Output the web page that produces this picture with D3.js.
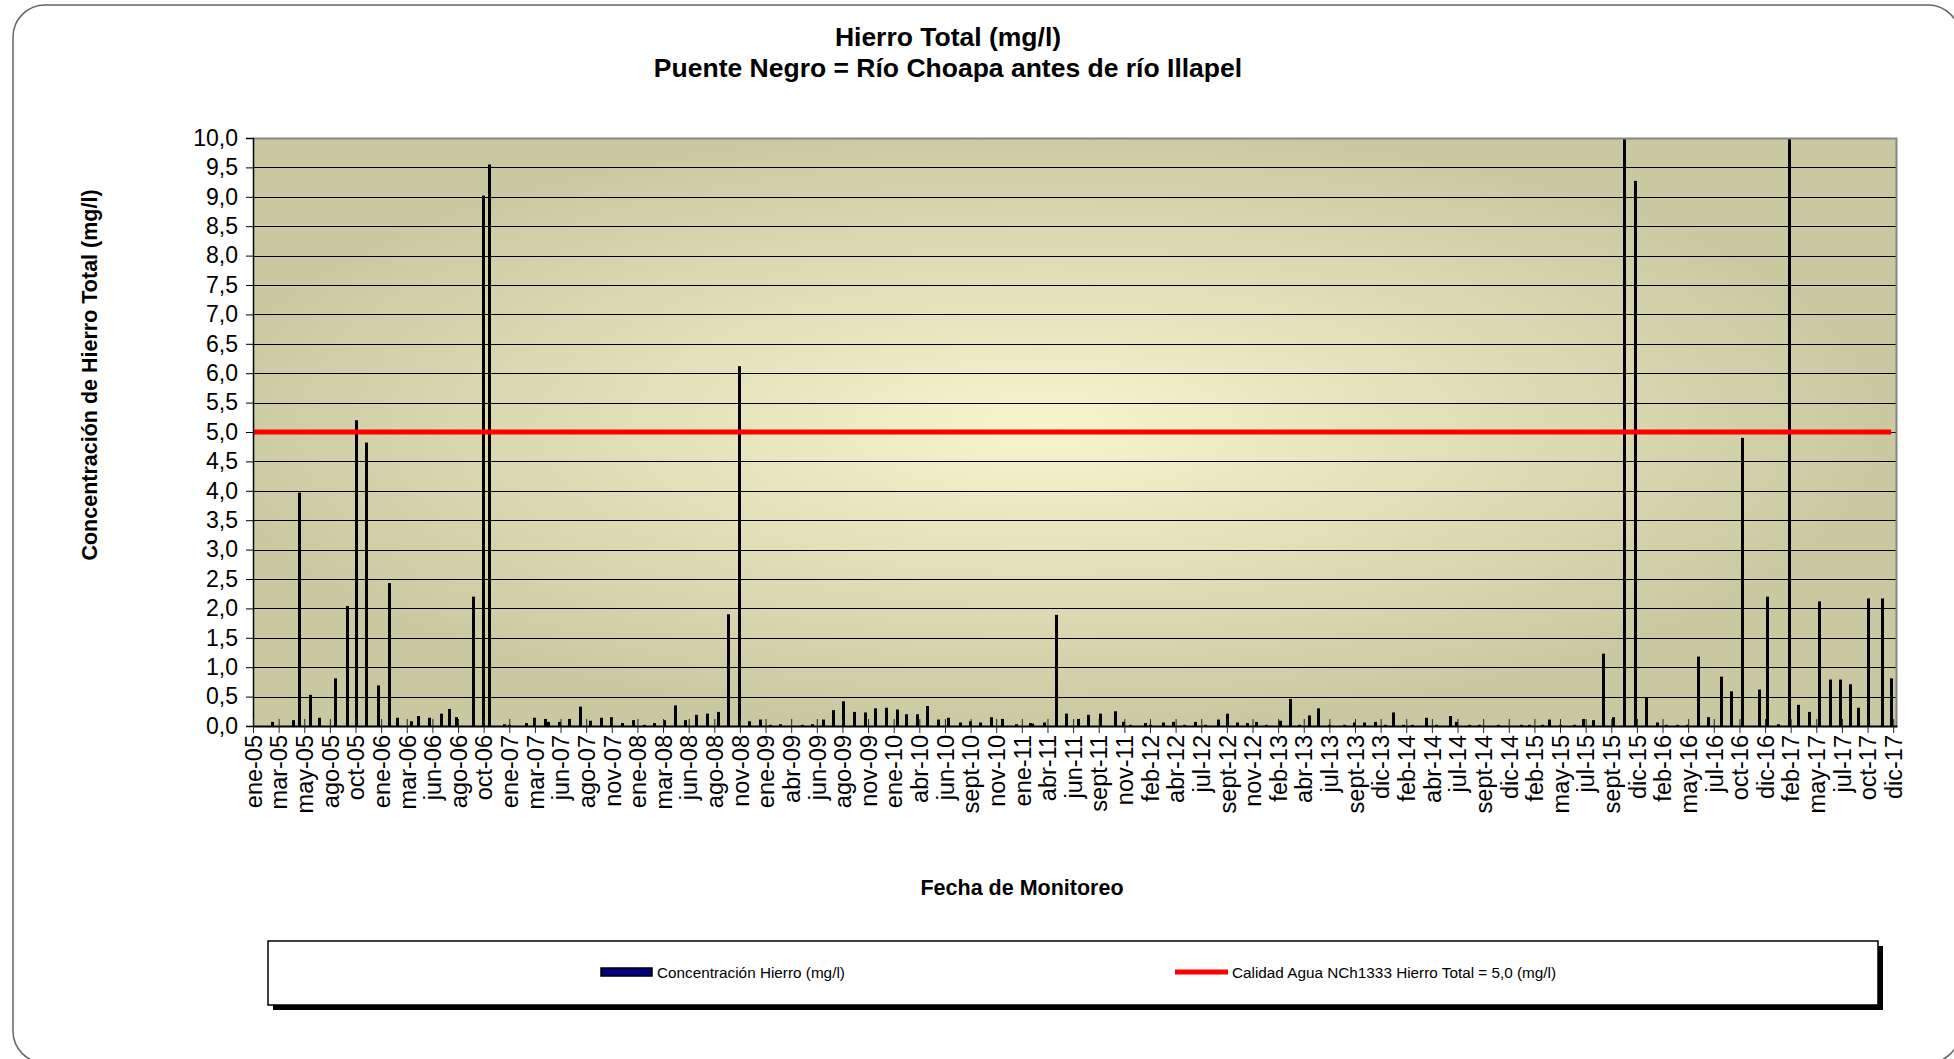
<!DOCTYPE html>
<html>
<head>
<meta charset="utf-8">
<script src="https://cdn.jsdelivr.net/npm/d3@7"></script>
<style>
  body { margin: 0; background: #fff; }
  svg { display: block; font-family: "Liberation Sans", Arial, sans-serif; }
</style>
</head>
<body>
<svg id="chart"></svg>
<script>
// monitoring dates and total iron (mg/l)
const sampleDates = [
  '2005-02-24','2005-04-26','2005-05-13','2005-06-16','2005-07-12','2005-08-26','2005-09-30','2005-10-24','2005-11-22','2005-12-29',
  '2006-01-30','2006-02-22','2006-04-01','2006-04-21','2006-05-23','2006-06-29','2006-07-21','2006-08-10','2006-09-27','2006-10-27','2006-11-13','2006-12-27',
  '2007-01-10','2007-02-28','2007-03-24','2007-04-24','2007-05-02','2007-06-03','2007-07-03','2007-08-03','2007-09-02','2007-10-03','2007-11-02','2007-12-03',
  '2008-01-02','2008-02-03','2008-03-03','2008-04-02','2008-05-03','2008-06-02','2008-07-04','2008-08-03','2008-09-04','2008-10-03','2008-11-03','2008-12-03',
  '2009-01-03','2009-02-02','2009-03-04','2009-05-04','2009-06-03','2009-07-04','2009-08-02','2009-09-02','2009-10-03','2009-11-03','2009-12-02',
  '2010-01-03','2010-02-03','2010-03-02','2010-04-02','2010-05-02','2010-06-02','2010-07-02','2010-08-03','2010-09-02','2010-10-02','2010-11-02','2010-12-03',
  '2011-01-13','2011-02-22','2011-03-01','2011-04-05','2011-05-10','2011-06-06','2011-07-11','2011-08-09','2011-09-12','2011-10-26','2011-11-18','2011-12-08',
  '2012-01-20','2012-02-05','2012-03-14','2012-04-10','2012-05-12','2012-06-12','2012-07-12','2012-08-19','2012-09-13','2012-10-12','2012-11-09','2012-12-05',
  '2013-01-03','2013-02-14','2013-03-14','2013-04-10','2013-05-07','2013-06-04','2013-07-06','2013-08-17','2013-09-16','2013-10-15','2013-11-14','2013-12-15',
  '2014-01-07','2014-02-03','2014-03-03','2014-04-10','2014-05-09','2014-06-18','2014-07-07','2014-08-13','2014-09-10','2014-11-04',
  '2015-01-09','2015-02-03','2015-03-11','2015-04-02','2015-05-04','2015-06-13','2015-07-08','2015-08-06','2015-09-04','2015-10-03','2015-11-03','2015-12-06',
  '2016-01-06','2016-02-06','2016-03-05','2016-04-04','2016-05-04','2016-06-03','2016-07-03','2016-08-11','2016-09-09','2016-10-09','2016-11-28','2016-12-20',
  '2017-01-21','2017-02-21','2017-03-21','2017-04-21','2017-05-21','2017-06-21','2017-07-20','2017-08-18','2017-09-08','2017-10-07','2017-11-18','2017-12-14'
];

const ironValues = [
  0.07, 0.10, 3.97, 0.53, 0.14, 0.81, 2.04, 5.20, 4.82, 0.69,
  2.43, 0.14, 0.08, 0.17, 0.14, 0.21, 0.29, 0.15, 2.20, 9.02, 9.55, 0.03,
  0.02, 0.05, 0.14, 0.12, 0.07, 0.07, 0.12, 0.33, 0.09, 0.14, 0.15, 0.05,
  0.10, 0.02, 0.05, 0.10, 0.35, 0.10, 0.19, 0.21, 0.24, 1.90, 6.12, 0.08,
  0.11, 0.02, 0.03, 0.02, 0.03, 0.11, 0.27, 0.42, 0.24, 0.23, 0.30,
  0.31, 0.28, 0.20, 0.20, 0.34, 0.11, 0.14, 0.06, 0.08, 0.06, 0.15, 0.12,
  0.03, 0.05, 0.04, 0.06, 1.89, 0.21, 0.12, 0.19, 0.21, 0.25, 0.07, 0.02,
  0.05, 0.02, 0.06, 0.07, 0.02, 0.07, 0.02, 0.11, 0.21, 0.06, 0.05, 0.07,
  0.02, 0.09, 0.46, 0.02, 0.18, 0.30, 0.02, 0.02, 0.06, 0.06, 0.07, 0.02,
  0.23, 0.02, 0.02, 0.14, 0.02, 0.17, 0.07, 0.02, 0.02, 0.02,
  0.02, 0.02, 0.02, 0.11, 0.02, 0.02, 0.12, 0.10, 1.23, 0.15, 10.80, 9.27,
  0.49, 0.06, 0.02, 0.02, 0.02, 1.18, 0.15, 0.84, 0.59, 4.90, 0.62, 2.20,
  0.03, 10.80, 0.36, 0.24, 2.12, 0.79, 0.79, 0.71, 0.31, 2.17, 2.17, 0.81
];

// NCh1333 limit line
const limitDates = ['2005-01-01', '2017-12-14'];
const limitValues = [5.0, 5.0];

// axis setup
const axisStart = '2005-01-01';
const axisEnd = '2017-12-31';
const tickStepDays = 74;
const monthAbbr = ['ene', 'feb', 'mar', 'abr', 'may', 'jun', 'jul', 'ago', 'sept', 'oct', 'nov', 'dic'];
const yTicks = d3.range(0, 10.01, 0.5);

const titleLines = ['Hierro Total (mg/l)', 'Puente Negro = Río Choapa antes de río Illapel'];
const yTitle = 'Concentración de Hierro Total (mg/l)';
const xTitle = 'Fecha de Monitoreo';
const legendLabels = ['Concentración Hierro (mg/l)', 'Calidad Agua NCh1333 Hierro Total = 5,0 (mg/l)'];

const parse = d3.timeParse('%Y-%m-%d');
const esFormat = d3.formatLocale({decimal: ',', thousands: '.', grouping: [3], currency: ['$', '']}).format('.1f');

let svg = d3.select('#chart')
    .attr('width', 1954)
    .attr('height', 1059),
  margin = {top: 138, left: 253},
  width = 1644,
  height = 588;

// outer rounded frame
svg.append('rect')
  .attr('x', 13).attr('y', 5)
  .attr('width', 1947).attr('height', 1058)
  .attr('rx', 32)
  .attr('fill', '#fff')
  .attr('stroke', '#666')
  .attr('stroke-width', 1.5);

let defs = svg.append('defs');
let grad = defs.append('radialGradient')
  .attr('id', 'plotbg')
  .attr('cx', 0.48).attr('cy', 0.49).attr('r', 0.52);
grad.append('stop').attr('offset', '0%').attr('stop-color', '#f7f5cd');
grad.append('stop').attr('offset', '100%').attr('stop-color', '#c9c9a1');

defs.append('clipPath')
  .attr('id', 'clip')
  .append('rect')
  .attr('width', width)
  .attr('height', height);

// titles
svg.selectAll('.title')
  .data(titleLines)
  .enter().append('text')
  .attr('class', 'title')
  .attr('x', 948)
  .attr('y', (d, i) => 46 + i * 31)
  .attr('text-anchor', 'middle')
  .attr('font-size', '26.5px')
  .attr('font-weight', 'bold')
  .text(d => d);

let viewport = svg.append('g')
  .attr('transform', 'translate(' + margin.left + ',' + margin.top + ')');

let xScale = d3.scaleTime()
  .domain([parse(axisStart), parse(axisEnd)])
  .range([0, width]);

let yScale = d3.scaleLinear()
  .domain([0, 10])
  .range([height, 0]);

viewport.append('rect')
  .attr('width', width)
  .attr('height', height)
  .attr('fill', 'url(#plotbg)');

// horizontal grid
viewport.append('g')
  .attr('class', 'grid')
  .selectAll('line')
  .data(yTicks.filter(v => v > 0 && v < 10))
  .enter().append('line')
  .attr('x1', 0)
  .attr('x2', width)
  .attr('y1', d => Math.round(yScale(d)) + 0.5)
  .attr('y2', d => Math.round(yScale(d)) + 0.5)
  .attr('stroke', '#000')
  .attr('stroke-width', 1);

// bars
viewport.append('g')
  .attr('clip-path', 'url(#clip)')
  .selectAll('.bar')
  .data(sampleDates.map((d, i) => ({date: parse(d), value: ironValues[i]})))
  .enter().append('rect')
  .attr('class', 'bar')
  .attr('x', d => Math.round(xScale(d.date)) - 1)
  .attr('width', 3)
  .attr('y', d => yScale(d.value))
  .attr('height', d => height - yScale(d.value))
  .attr('fill', '#000');

// limit line
let limitLine = d3.line()
  .x(d => xScale(d.date))
  .y(d => yScale(d.value));

viewport.append('path')
  .datum(limitDates.map((d, i) => ({date: parse(d), value: limitValues[i]})))
  .attr('d', limitLine)
  .attr('fill', 'none')
  .attr('stroke', '#ff0000')
  .attr('stroke-width', 5);

// plot border top / right
viewport.append('path')
  .attr('d', 'M0,0.5H' + (width - 0.5) + 'V' + height)
  .attr('fill', 'none')
  .attr('stroke', '#868686')
  .attr('stroke-width', 2);

// y axis
viewport.append('g')
  .attr('class', 'axis yaxis')
  .call(d3.axisLeft(yScale).tickValues(yTicks).tickFormat(esFormat).tickSize(7).tickPadding(8))
  .call(g => g.select('.domain').attr('stroke', '#000').attr('stroke-width', 1.5))
  .call(g => g.selectAll('line').attr('stroke', '#000'))
  .selectAll('text')
  .attr('fill', '#000')
  .attr('font-size', '23px')
  .attr('font-family', '"Liberation Sans", Arial, sans-serif');

// x axis, major unit every 74 days from the start of the axis
let xTickDates = d3.range(0, 65).map(i => d3.timeDay.offset(parse(axisStart), i * tickStepDays));

viewport.append('g')
  .attr('class', 'axis xaxis')
  .attr('transform', 'translate(0,' + height + ')')
  .call(d3.axisBottom(xScale)
    .tickValues(xTickDates)
    .tickSizeOuter(0)
    .tickFormat(d => monthAbbr[d.getMonth()] + '-' + d3.timeFormat('%y')(d)))
  .call(g => g.select('.domain').attr('stroke', '#000').attr('stroke-width', 2))
  .call(g => g.selectAll('.tick line').attr('y1', -7).attr('y2', 7).attr('stroke', '#222'))
  .selectAll('text')
  .attr('fill', '#000')
  .attr('font-size', '23.5px')
  .attr('font-family', '"Liberation Sans", Arial, sans-serif')
  .attr('transform', 'rotate(-90)')
  .attr('x', -9)
  .attr('y', 0)
  .attr('dy', '0.35em')
  .style('text-anchor', 'end');

// axis titles
svg.append('text')
  .attr('transform', 'translate(97,375) rotate(-90)')
  .attr('text-anchor', 'middle')
  .attr('font-size', '21.5px')
  .attr('font-weight', 'bold')
  .text(yTitle);

svg.append('text')
  .attr('x', 1022)
  .attr('y', 895)
  .attr('text-anchor', 'middle')
  .attr('font-size', '21.5px')
  .attr('font-weight', 'bold')
  .text(xTitle);

// legend
let legend = svg.append('g').attr('class', 'legend');

legend.append('rect')
  .attr('x', 273).attr('y', 946)
  .attr('width', 1610).attr('height', 64)
  .attr('fill', '#000');

legend.append('rect')
  .attr('x', 268).attr('y', 941)
  .attr('width', 1610).attr('height', 64)
  .attr('fill', '#fff')
  .attr('stroke', '#000')
  .attr('stroke-width', 1.5);

legend.append('rect')
  .attr('x', 601).attr('y', 968)
  .attr('width', 51).attr('height', 8)
  .attr('fill', '#000080')
  .attr('stroke', '#000')
  .attr('stroke-width', 1.5);

legend.append('line')
  .attr('x1', 1175).attr('x2', 1228)
  .attr('y1', 972).attr('y2', 972)
  .attr('stroke', '#ff0000')
  .attr('stroke-width', 5);

legend.selectAll('.legend-label')
  .data(legendLabels)
  .enter().append('text')
  .attr('class', 'legend-label')
  .attr('x', (d, i) => i === 0 ? 657 : 1232)
  .attr('y', 978)
  .attr('font-size', '15.3px')
  .text(d => d);
</script>
</body>
</html>
